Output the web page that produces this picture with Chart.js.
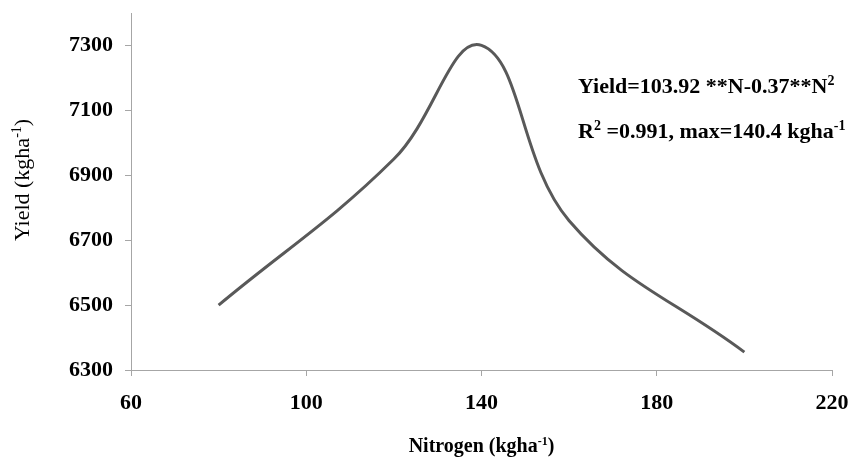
<!DOCTYPE html>
<html>
<head>
<meta charset="utf-8">
<script src="https://cdn.jsdelivr.net/npm/chart.js@4"></script>
<style>
  html, body { margin: 0; padding: 0; background: #fff; }
  #wrap { width: 852px; height: 457px; }
</style>
</head>
<body>
<div id="wrap"><canvas id="chart" width="852" height="457"></canvas></div>
<script>
// values
const nitrogen = [80, 120, 140, 160, 200];
const yieldKg = [6500, 6950, 7300, 6760, 6355];
const xTicks = [60, 100, 140, 180, 220];
const yTicks = [6300, 6500, 6700, 6900, 7100, 7300];

const serif = "'Liberation Serif', 'Times New Roman', serif";
const axisGrey = "#a6a6a6";

// draw text pieces, some of them as superscript
function drawRich(ctx, parts, x, y, size, weight) {
  let cx = x;
  parts.forEach(([txt, sup]) => {
    const fs = sup ? Math.round(size * 0.62) : size;
    ctx.font = weight + " " + fs + "px " + serif;
    ctx.fillText(txt, cx, sup ? y - size * 0.36 : y);
    cx += ctx.measureText(txt).width;
  });
  return cx - x;
}
function richWidth(ctx, parts, size, weight) {
  let w = 0;
  parts.forEach(([txt, sup]) => {
    const fs = sup ? Math.round(size * 0.62) : size;
    ctx.font = weight + " " + fs + "px " + serif;
    w += ctx.measureText(txt).width;
  });
  return w;
}

const textPlugin = {
  id: "texts",
  afterDraw(chart) {
    const ctx = chart.ctx;
    const area = chart.chartArea;
    ctx.save();
    ctx.fillStyle = "#000";
    ctx.textBaseline = "alphabetic";
    ctx.textAlign = "left";

    // x axis title
    const xt = [["Nitrogen (kgha", false], ["-1", true], [")", false]];
    const xw = richWidth(ctx, xt, 20, "bold");
    drawRich(ctx, xt, (area.left + area.right) / 2 - xw / 2, 452, 20, "bold");

    // y axis title
    const yt = [["Yield (kgha", false], ["-1", true], [")", false]];
    const yw = richWidth(ctx, yt, 22, "normal");
    ctx.save();
    ctx.translate(29, 180);
    ctx.rotate(-Math.PI / 2);
    drawRich(ctx, yt, -yw / 2, 0, 22, "normal");
    ctx.restore();

    // equation
    drawRich(ctx, [["Yield=103.92 **N-0.37**N", false], ["2", true]], 578, 93, 22, "bold");
    drawRich(ctx, [["R", false], ["2", true], [" =0.991, max=140.4 kgha", false], ["-1", true]], 578, 138, 22, "bold");
    ctx.restore();
  }
};

new Chart(document.getElementById("chart"), {
  type: "line",
  data: {
    datasets: [{
      data: nitrogen.map((n, i) => ({ x: n, y: yieldKg[i] })),
      borderColor: "#595959",
      borderWidth: 3,
      pointRadius: 0,
      tension: 0.4,
      fill: false
    }]
  },
  options: {
    responsive: false,
    animation: false,
    layout: { padding: { top: 13, right: 20, left: 0, bottom: 0 } },
    plugins: {
      legend: { display: false },
      tooltip: { enabled: false }
    },
    scales: {
      x: {
        type: "linear",
        min: 60,
        max: 220,
        afterBuildTicks: s => { s.ticks = xTicks.map(v => ({ value: v })); },
        afterFit: s => { s.height = 87; s.paddingLeft = 0; s.paddingRight = 0; },
        grid: { drawOnChartArea: false, drawTicks: true, tickLength: 6, color: axisGrey },
        border: { color: axisGrey, width: 1 },
        ticks: {
          color: "#000",
          padding: 14,
          callback: v => String(v),
          font: { family: serif, size: 22, weight: "bold" }
        }
      },
      y: {
        min: 6300,
        max: 7400,
        afterBuildTicks: s => { s.ticks = yTicks.map(v => ({ value: v })); },
        afterFit: s => { s.width = 131; s.paddingTop = 0; s.paddingBottom = 0; },
        grid: { drawOnChartArea: false, drawTicks: true, tickLength: 6, color: axisGrey },
        border: { color: axisGrey, width: 1 },
        ticks: {
          color: "#000",
          padding: 12,
          callback: v => String(v),
          font: { family: serif, size: 22, weight: "bold" }
        }
      }
    }
  },
  plugins: [textPlugin]
});
</script>
</body>
</html>
